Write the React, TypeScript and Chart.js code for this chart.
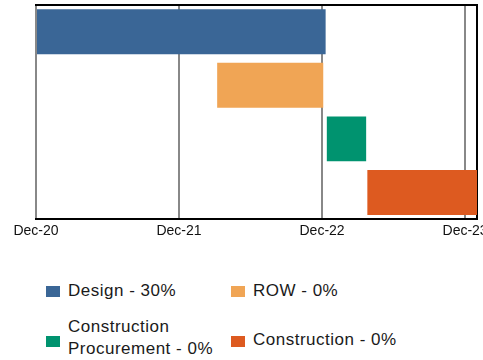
import React, { useEffect, useRef } from "react";
import { Chart, registerables } from "chart.js";

Chart.register(...registerables);

// Months since Dec-20
const tasks = ["Design - 30%", "ROW - 0%", "Construction Procurement - 0%", "Construction - 0%"];
const starts = [0, 15.2, 24.4, 27.8];
const ends = [24.3, 24.1, 27.7, 37];
const colors = ["#3A6696", "#F0A555", "#00936F", "#DD5A20"];
const tickValues = [0, 12, 24, 36];
const tickLabels = ["Dec-20", "Dec-21", "Dec-22", "Dec-23"];
const axisMin = 0;
const axisMax = 37;

const FONT = '"Liberation Sans", Arial, sans-serif';

const legendItems = [
  { i: 0, left: 46, top: 280, width: 170, boxShift: 0 },
  { i: 1, left: 231, top: 280, width: 200, boxShift: 0 },
  { i: 2, left: 46, top: 316, width: 160, boxShift: 3 },
  { i: 3, left: 231, top: 329, width: 200, boxShift: 1 },
];

export default function App() {
  const ref = useRef<HTMLCanvasElement>(null);
  useEffect(() => {
    if (!ref.current) return;
    const chart = new Chart(ref.current, {
      type: "bar",
      data: {
        labels: tasks,
        datasets: [
          {
            data: tasks.map((_, i) => [starts[i], ends[i]]) as any,
            backgroundColor: colors,
            borderWidth: 0,
            barPercentage: 0.84,
            categoryPercentage: 1,
            xAxisID: "x",
            yAxisID: "y",
          },
        ],
      },
      options: {
        indexAxis: "y",
        animation: false,
        responsive: false,
        layout: { padding: { left: 36, top: 5, right: 23, bottom: 0 } },
        plugins: { legend: { display: false }, tooltip: { enabled: false } },
        scales: {
          x: {
            type: "linear",
            position: "bottom",
            min: axisMin,
            max: axisMax,
            afterBuildTicks: (scale: any) => {
              scale.ticks = tickValues.map((v) => ({ value: v }));
            },
            ticks: {
              color: "#111",
              font: { family: FONT, size: 14 },
              padding: 4,
              maxRotation: 0,
              autoSkip: false,
              callback: (v: any) => {
                const idx = tickValues.indexOf(Number(v));
                return idx >= 0 ? tickLabels[idx] : "";
              },
            },
            grid: { color: "#888", lineWidth: 2, drawTicks: false },
            border: { color: "#000", width: 2 },
          },
          xTop: {
            type: "linear",
            position: "top",
            min: axisMin,
            max: axisMax,
            ticks: { display: false },
            grid: { display: false, drawTicks: false },
            border: { display: true, color: "#000", width: 2 },
          },
          y: {
            type: "category",
            position: "right",
            ticks: { display: false },
            grid: { display: false, drawTicks: false },
            border: { display: true, color: "#000", width: 2 },
          },
        },
      },
    });
    return () => chart.destroy();
  }, []);

  return (
    <div
      style={{
        position: "fixed",
        left: 0,
        top: 0,
        width: 483,
        height: 360,
        overflow: "hidden",
        background: "#fff",
        fontFamily: FONT,
      }}
    >
      <canvas ref={ref} width={500} height={244} style={{ position: "absolute", left: 0, top: 0 }} />
      {legendItems.map((it) => (
        <div
          key={it.i}
          style={{
            position: "absolute",
            left: it.left,
            top: it.top,
            display: "flex",
            alignItems: "center",
          }}
        >
          <div
            style={{
              width: 14,
              height: 11,
              background: colors[it.i],
              flex: "none",
              transform: `translateY(${it.boxShift}px)`,
            }}
          />
          <div
            style={{
              marginLeft: 8,
              width: it.width,
              fontSize: 17,
              lineHeight: "22px",
              letterSpacing: 0.5,
              color: "#1a1a1a",
            }}
          >
            {tasks[it.i]}
          </div>
        </div>
      ))}
    </div>
  );
}
